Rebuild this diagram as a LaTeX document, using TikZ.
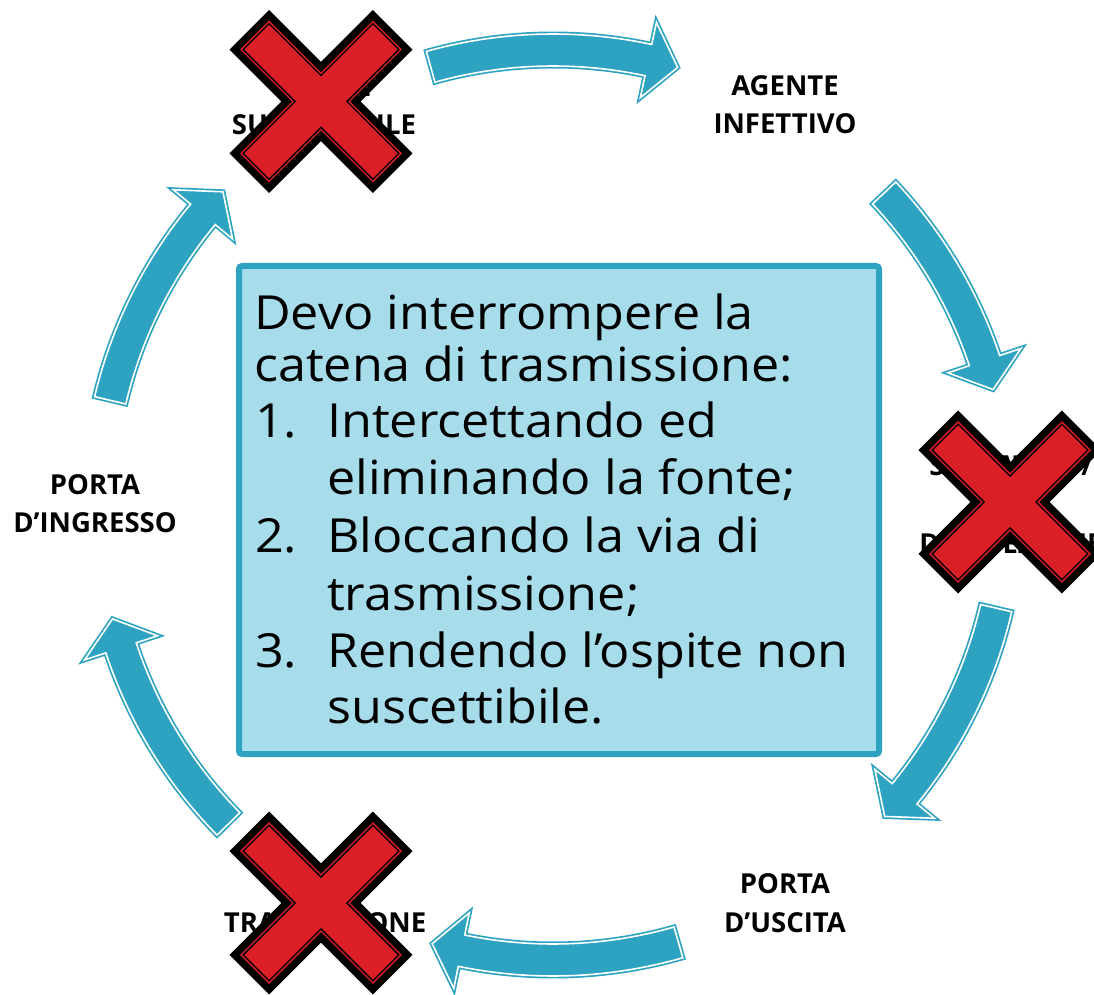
\documentclass[tikz,border=0pt]{standalone}
\usepackage{fontspec}
\setmainfont{Open Sans}
\newfontfamily\boxfont{Open Sans}[FakeStretch=1.07]
\definecolor{arrowteal}{HTML}{2EA3C1}
\definecolor{boxfill}{HTML}{A7DCEA}
\definecolor{crossred}{HTML}{DA1F26}
\tikzset{
  lab/.style={font=\fontsize{27.5}{33}\selectfont\bfseries, anchor=base, inner sep=0pt},
  boxline/.style={font=\boxfont\fontsize{47}{56}\selectfont, anchor=base west, inner sep=0pt},
  cyc/.style={fill=arrowteal, draw=arrowteal, line width=5pt, line join=miter,
    postaction={draw=white, line width=1.6pt}},
  crossshape/.style={fill=crossred,
    preaction={draw=black, line width=21pt},
    preaction={draw=crossred, line width=6pt},
    preaction={draw=black, line width=3pt}},
  infobox/.style={draw=arrowteal, fill=boxfill, line width=6pt, rounded corners=3pt,
    minimum width=640pt, minimum height=488pt, anchor=south west, inner sep=0pt}
}
% #1 = tail angle, #2 = tip angle (clockwise arrow along the circle)
\newcommand\CycArrow[2]{%
  \path[cyc] ({#1}:471pt) arc[start angle={#1}, end angle={#2+3.8}, radius=471pt]
    -- ({#2+3.8}:493.5pt) -- ({#2}:455pt) -- ({#2+3.8}:416.5pt) -- ({#2+3.8}:439pt)
    arc[start angle={#2+3.8}, end angle={#1}, radius=439pt] -- cycle;}
\newcommand\RedCross[2]{%
  \begin{scope}[shift={(#1,#2)}, rotate=45]
    \path[crossshape] (90.9,17.5) -- (17.5,17.5) -- (17.5,90.9) -- (-17.5,90.9) -- (-17.5,17.5)
      -- (-90.9,17.5) -- (-90.9,-17.5) -- (-17.5,-17.5) -- (-17.5,-90.9) -- (17.5,-90.9)
      -- (17.5,-17.5) -- (90.9,-17.5) -- cycle;
  \end{scope}}
\begin{document}
\begin{tikzpicture}[x=1pt,y=1pt]
\useasboundingbox (0,0) rectangle (1094,994);
% cycle arrows
\begin{scope}[shift={(553,489)}]
  \CycArrow{105.6}{74.1}
  \CycArrow{43.3}{14.7}
  \CycArrow{-13.1}{-43.2}
  \CycArrow{-74}{-105.4}
  \CycArrow{224.5}{194.5}
  \CycArrow{166.7}{136.5}
\end{scope}
% labels
\node[lab] (ag1) at (785,898) {AGENTE};
\node[lab] (ag2) at (785,860) {INFETTIVO};
\node[lab] (se1) at (1011,518) {SERBATOIO/};
\node[lab] (se3) at (1011,440) {DI INFEZIONE};
\node[lab] (pu1) at (785,101) {PORTA};
\node[lab] (pu2) at (785,62) {D’USCITA};
\node[lab] (tr1) at (325,62) {TRASMISSIONE};
\node[lab] (pi1) at (95,499) {PORTA};
\node[lab] (pi2) at (95,461) {D’INGRESSO};
\node[lab] (os1) at (324,897) {OSPITE};
\node[lab] (os2) at (324,859) {SUSCETTIBILE};
% central box
\node[infobox] (box) at (236,237) {};
\node[boxline] (t1) at (254,664) {Devo interrompere la};
\node[boxline] (t2) at (254,612) {catena di trasmissione:};
\node[boxline] (n1) at (255,556) {1.};
\node[boxline] (t3) at (327,556) {Intercettando ed};
\node[boxline] (t4) at (327,499) {eliminando la fonte;};
\node[boxline] (n2) at (255,441) {2.};
\node[boxline] (t5) at (327,441) {Bloccando la via di};
\node[boxline] (t6) at (327,384) {trasmissione;};
\node[boxline] (n3) at (255,327) {3.};
\node[boxline] (t7) at (327,327) {Rendendo l’ospite non};
\node[boxline] (t8) at (327,271) {suscettibile.};
% crosses
\RedCross{321}{892.5}
\RedCross{1010}{492}
\RedCross{321}{91}
\end{tikzpicture}
\end{document}
